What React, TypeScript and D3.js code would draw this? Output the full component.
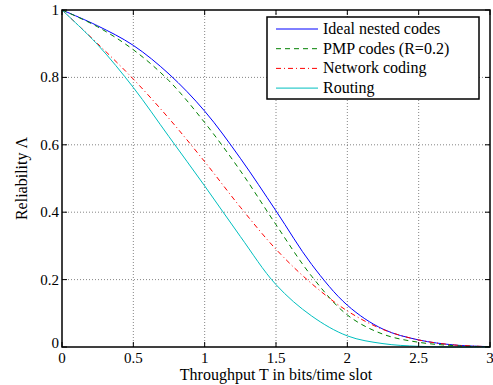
import React, { useEffect, useRef } from 'react';
import * as d3 from 'd3';

const throughput = [0, 0.25, 0.5, 0.75, 1, 1.25, 1.5, 1.75, 2, 2.25, 2.5, 2.75, 3];
const idealNested = [1, 0.953, 0.895, 0.81, 0.7, 0.56, 0.404, 0.245, 0.124, 0.053, 0.021, 0.006, 0.001];
const pmpCodes = [1, 0.95, 0.882, 0.79, 0.666, 0.523, 0.363, 0.21, 0.095, 0.038, 0.014, 0.004, 0.001];
const networkCoding = [1, 0.9, 0.795, 0.678, 0.55, 0.415, 0.29, 0.188, 0.107, 0.052, 0.021, 0.006, 0.001];
const routing = [1, 0.897, 0.77, 0.624, 0.478, 0.328, 0.185, 0.092, 0.033, 0.01, 0.002, 0.0, 0];

const xTicks = [0, 0.5, 1, 1.5, 2, 2.5, 3];
const yTicks = [0, 0.2, 0.4, 0.6, 0.8, 1];

const seriesNames = ['Ideal nested codes', 'PMP codes (R=0.2)', 'Network coding', 'Routing'];
const seriesValues = [idealNested, pmpCodes, networkCoding, routing];
const seriesColors = ['#0000ff', '#008000', '#ff0000', '#00bfbf'];
const seriesDash = ['none', '5,4', '5,3,1,3', 'none'];

export default function App() {
  const ref = useRef<SVGSVGElement>(null);

  useEffect(() => {
    if (!ref.current) return;
    const svg = d3.select(ref.current);
    svg.selectAll('*').remove();

    const left = 62, right = 490, top = 10, bottom = 347;
    const font = "'Times New Roman', Times, 'Liberation Serif', 'Noto Serif', 'DejaVu Serif', serif";

    const x = d3.scaleLinear().domain([0, 3]).range([left, right]);
    const y = d3.scaleLinear().domain([0, 1]).range([bottom, top]);

    svg.append('rect')
      .attr('x', 0).attr('y', 0).attr('width', 493).attr('height', 385)
      .attr('fill', 'white');

    // grid
    const grid = svg.append('g')
      .attr('stroke', '#666')
      .attr('stroke-width', 0.8)
      .attr('stroke-dasharray', '1,2');
    grid.selectAll('line.gx')
      .data(xTicks.slice(1, -1))
      .enter().append('line')
      .attr('x1', d => x(d)).attr('x2', d => x(d))
      .attr('y1', top).attr('y2', bottom);
    grid.selectAll('line.gy')
      .data(yTicks.slice(1, -1))
      .enter().append('line')
      .attr('y1', d => y(d)).attr('y2', d => y(d))
      .attr('x1', left).attr('x2', right);

    // curves
    const line = d3.line<number>()
      .x((_, i) => x(throughput[i]))
      .y(d => y(d))
      .curve(d3.curveCatmullRom.alpha(0.5));

    seriesValues.forEach((vals, i) => {
      svg.append('path')
        .attr('d', line(vals))
        .attr('fill', 'none')
        .attr('stroke', seriesColors[i])
        .attr('stroke-width', 1)
        .attr('stroke-dasharray', seriesDash[i]);
    });

    // axes box and ticks
    svg.append('rect')
      .attr('x', left).attr('y', top)
      .attr('width', right - left).attr('height', bottom - top)
      .attr('fill', 'none').attr('stroke', '#000').attr('stroke-width', 1.5);

    const ticks = svg.append('g').attr('stroke', '#000').attr('stroke-width', 1);
    xTicks.forEach(t => {
      ticks.append('line').attr('x1', x(t)).attr('x2', x(t)).attr('y1', bottom).attr('y2', bottom - 5);
      ticks.append('line').attr('x1', x(t)).attr('x2', x(t)).attr('y1', top).attr('y2', top + 5);
    });
    yTicks.forEach(t => {
      ticks.append('line').attr('y1', y(t)).attr('y2', y(t)).attr('x1', left).attr('x2', left + 5);
      ticks.append('line').attr('y1', y(t)).attr('y2', y(t)).attr('x1', right).attr('x2', right - 5);
    });

    svg.selectAll('text.xt')
      .data(xTicks)
      .enter().append('text')
      .attr('x', d => x(d))
      .attr('y', 363)
      .attr('text-anchor', 'middle')
      .style('font-family', font)
      .style('font-size', '15px')
      .text(d => String(d));

    svg.selectAll('text.yt')
      .data(yTicks)
      .enter().append('text')
      .attr('x', 59)
      .attr('y', d => y(d) + (d === 0 ? 1 : 5))
      .attr('text-anchor', 'end')
      .style('font-family', font)
      .style('font-size', '15px')
      .text(d => String(d));

    svg.append('text')
      .attr('x', (left + right) / 2)
      .attr('y', 380)
      .attr('text-anchor', 'middle')
      .style('font-family', font)
      .style('font-size', '16px')
      .text('Throughput T in bits/time slot');

    svg.append('text')
      .attr('transform', `translate(27,${(top + bottom) / 2}) rotate(-90)`)
      .attr('text-anchor', 'middle')
      .style('font-family', font)
      .style('font-size', '16px')
      .text('Reliability Λ');

    // legend
    const lg = svg.append('g');
    lg.append('rect')
      .attr('x', 267).attr('y', 17).attr('width', 212).attr('height', 82)
      .attr('fill', 'white').attr('stroke', '#000').attr('stroke-width', 1.5);
    seriesNames.forEach((name, i) => {
      const ly = 29 + i * 19.7;
      lg.append('line')
        .attr('x1', 276).attr('x2', 318).attr('y1', ly).attr('y2', ly)
        .attr('stroke', seriesColors[i]).attr('stroke-width', 1)
        .attr('stroke-dasharray', seriesDash[i]);
      lg.append('text')
        .attr('x', 323).attr('y', ly + 5)
        .style('font-family', font)
        .style('font-size', '16px')
        .text(name);
    });
  }, []);

  return (
    <svg
      ref={ref}
      width={493}
      height={385}
      style={{ position: 'absolute', left: 0, top: 0, display: 'block' }}
    />
  );
}
